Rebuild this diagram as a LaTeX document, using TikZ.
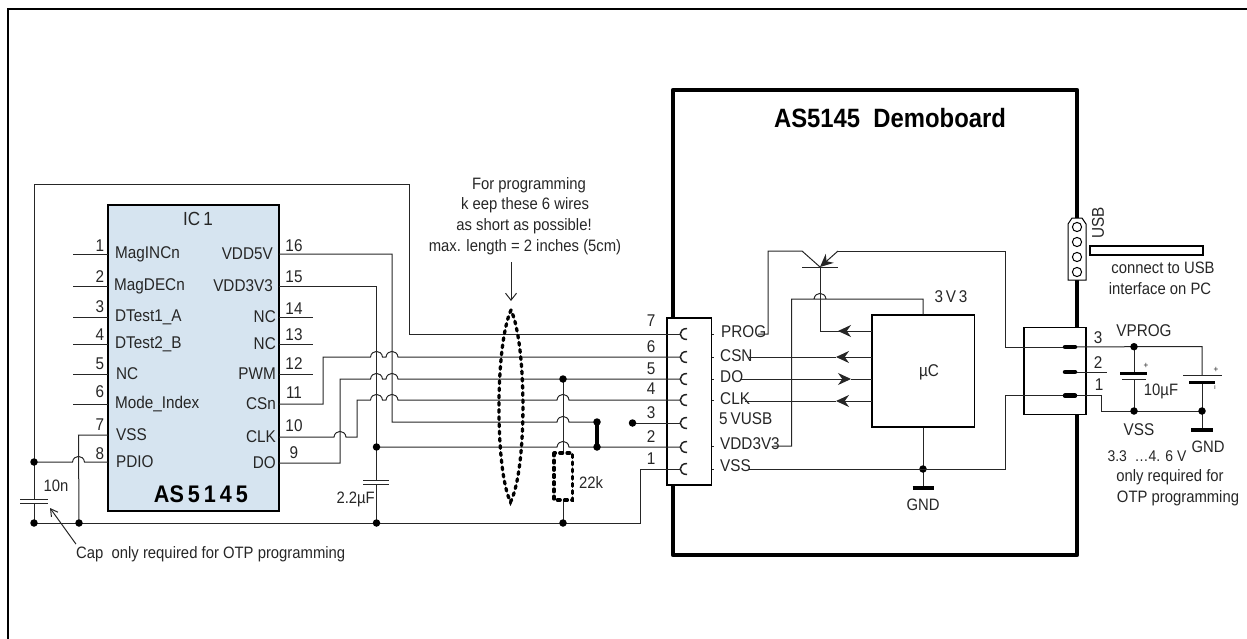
\documentclass[tikz,border=0pt]{standalone}
\usepackage{fontspec}
\setmainfont[FakeStretch=0.9]{Liberation Sans}
\usepackage{tikz}
\usetikzlibrary{arrows.meta}
\definecolor{icblue}{HTML}{D6E4F0}
\colorlet{inkcol}{black!85}
\tikzset{
	wire/.style={line width=1pt, draw=inkcol},
	frameline/.style={line width=2pt, draw=black},
	boardline/.style={line width=4.2pt, draw=black, line join=round},
	plate/.style={line width=1pt, draw=inkcol},
	barplate/.style={line width=3pt, draw=black},
	dotted thick/.style={line width=3.3pt, draw=black, line cap=round, dash pattern=on 2.8pt off 4.4pt},
	label/.style={inner sep=0pt, text=inkcol, font=\fontsize{16.5}{18}\selectfont},
	pinlabel/.style={label, font=\fontsize{17}{18}\selectfont},
	solder/.style={circle, fill=black, inner sep=0pt, minimum size=7.5pt},
	pad/.style={line width=4.5pt, draw=black, line cap=round},
	tip/.style={-{Stealth[length=13pt, width=12pt]}}
}
% hump of a wire passing over another one
\newcommand{\hop}[2]{-- (#1-6,#2) .. controls (#1-5,#2-7.5) and (#1+5,#2-7.5) .. (#1+6,#2)}
\begin{document}
\begin{tikzpicture}[x=1pt, y=-1pt]
	\useasboundingbox (0,0) rectangle (1247,638);
	\draw[frameline] (8,640) -- (8,9) -- (1250,9);

	% board
	\draw[boardline] (673,90) rectangle (1077,555);
	\node[font=\fontsize{26.5}{28}\selectfont\bfseries, inner sep=0pt] (boardname) at (890,118) {AS5145\ \ Demoboard};

	% chip
	\node[draw=black, line width=1.3pt, fill=icblue, minimum width=171pt, minimum height=306pt, inner sep=0pt] (ic) at (193.5,358) {};
	\node[label, font=\fontsize{19}{20}\selectfont] (icname) at (198,219) {IC\,1};
	\node[font=\fontsize{24}{26}\selectfont\bfseries, inner sep=0pt] (icpart) at (201,494) {AS\,5\,1\,4\,5};
	\foreach \n/\y/\ty/\t/\tx in {1/254/246/MagINCn/115, 2/286/277/MagDECn/114, 3/317/307/DTest1\_A/115, 4/344/335/DTest2\_B/115, 5/374/364/NC/116, 6/404/392/Mode\_Index/115, 7/435/425/VSS/116, 8/462/454/PDIO/116}{
		\coordinate (pin\n) at (108,\y);
		\node[pinlabel] (num\n) at (100,\ty) {\n};
		\node[pinlabel, anchor=west] (name\n) at (\tx,\y) {\t};
	}
	\foreach \n/\y/\ty/\t/\tx in {16/254/246/VDD5V/273, 15/286/277/VDD3V3/273, 14/317/309/NC/276, 13/344/335/NC/276, 12/374/364/PWM/276, 11/404/393/CSn/276, 10/437/426/CLK/276, 9/463/453/DO/276}{
		\coordinate (pin\n) at (279,\y);
		\node[pinlabel] (num\n) at (294,\ty) {\n};
		\node[pinlabel, anchor=east] (name\n) at (\tx,\y) {\t};
	}
	\foreach \n in {1,...,6}
		\draw[wire] (pin\n) -- ++(-35,0);
	\foreach \n in {14,13,12}
		\draw[wire] (pin\n) -- ++(34,0);

	% connector on the board
	\node[draw=black, fill=white, line width=1.2pt, minimum width=44.7pt, minimum height=167pt, inner sep=0pt] (conn) at (689.3,401.5) {};
	\foreach \n/\y/\ty in {7/334/321, 6/357/347, 5/379/369, 4/400/389, 3/423/413, 2/447/437, 1/469/459}{
		\coordinate (cn\n) at (680,\y);
		\node[pinlabel] (cnum\n) at (651,\ty) {\n};
		\draw[wire, line width=1.5pt] (687,\y-5.5) .. controls (678,\y-5.5) and (678,\y+5.5) .. (687,\y+5.5);
	}
	\foreach \y in {334,357,379,400,446,469}
		\draw[wire] (712,\y) -- (714,\y);

	% wires between chip and connector
	\coordinate (railL) at (34,523);
	\coordinate (railV) at (79,523);
	\coordinate (railC) at (376.5,523);
	\coordinate (railR) at (563,523);
	\coordinate (jL) at (34,462);
	\coordinate (jC) at (376.5,447);
	\coordinate (jR) at (563,379);
	\coordinate (barT) at (597,422);
	\coordinate (barB) at (597,447);
	\coordinate (free3) at (632.5,423);
	\coordinate (capA) at (34,499);
	\coordinate (capB) at (34,503.5);
	\coordinate (capC) at (376.5,480);
	\coordinate (capD) at (376.5,484.5);
	\coordinate (resT) at (563,453);
	\coordinate (resB) at (563,500);

	\draw[wire] (cn7) -- (409,334) -- (409,184) -- (34,184) -- (capA);
	\draw[wire] (capB) -- (railL);
	\draw[wire] (railL) -- (640.5,523) -- (640.5,469) -- (cn1);
	\draw[wire] (jL) \hop{78.5}{462} -- (pin8);
	\draw[wire] (pin7) -- (78.5,435) -- (railV);
	\draw[wire] (pin16) -- (392,254) -- (392,422) \hop{563}{422} -- (barT);
	\draw[wire] (pin15) -- (376.5,286) -- (capC);
	\draw[wire] (capD) -- (railC);
	\draw[wire] (jC) \hop{563}{447} -- (cn2);
	\draw[wire] (pin11) -- (323,404) -- (323,357) \hop{376.5}{357} \hop{392}{357} -- (cn6);
	\draw[wire] (pin9) -- (340,463) -- (340,379) \hop{376.5}{379} \hop{392}{379} -- (cn5);
	\draw[wire] (pin10) \hop{340}{437} -- (357,437) -- (357,400) \hop{376.5}{400} \hop{392}{400} \hop{563}{400} -- (cn4);
	\draw[wire] (free3) -- (cn3);
	\draw[wire] (jR) -- (resT);
	\draw[wire] (resB) -- (railR);
	\draw[line width=3.4pt, line cap=round] (barT) -- (barB);

	% capacitors on the chip side
	\draw[plate] (20,499) -- (48,499);
	\draw[plate] (20,503.5) -- (48,503.5);
	\draw[plate] (363,480) -- (389,480);
	\draw[plate] (363,484.5) -- (389,484.5);
	\node[label] (capval) at (56,486) {10n};
	\node[label, anchor=east] (cvdd) at (375,499) {2.2µF};
	\node[label, anchor=west] (capnote) at (76,554) {Cap\ \ only required for OTP programming};
	\draw[wire, -{Straight Barb[length=7pt, width=8pt]}] (capnote.north west) ++(0,-2) -- (50,508);

	% note and wire bundle
	\node[label, align=center] (note1) at (529,185) {For programming};
	\node[label] (note2) at (525,205) {k eep these 6 wires};
	\node[label] (note3) at (524,226) {as short as possible!};
	\node[label] (note4) at (525,247) {max. length = 2 inches (5cm)};
	\coordinate (loopT) at (511,310);
	\coordinate (loopB) at (510.5,502);
	\draw[wire, -{Straight Barb[length=7pt, width=11pt]}] (511,262) -- (511,301);
	\draw[dotted thick] (loopT) .. controls (495,345) and (495,470) .. (loopB) .. controls (527,470) and (527,345) .. (loopT);
	\draw[dotted thick] (554,453) rectangle (572.5,500);
	\node[label] (resval) at (591,483) {22k};

	% dots
	\foreach \p in {railL,railV,railC,railR,jL,jC,jR,barT,barB,free3}
		\node[solder] at (\p) {};

	% connector labels on the board
	\node[pinlabel, anchor=west] (lprog) at (721,332) {PROG};
	\node[pinlabel, anchor=west] (lcsn) at (720,356) {CSN};
	\node[pinlabel, anchor=west] (ldo) at (720,377) {DO};
	\node[pinlabel, anchor=west] (lclk) at (720,399) {CLK};
	\node[pinlabel, anchor=west] (lusb) at (719,419) {5\,VUSB};
	\node[pinlabel, anchor=west] (lvdd) at (720,444) {VDD3V3};
	\node[pinlabel, anchor=west] (lvss) at (720,466) {VSS};

	% microcontroller
	\node[draw=black, line width=1.5pt, minimum width=102.5pt, minimum height=112pt, inner sep=0pt] (uc) at (923,371) {};
	\node[pinlabel] (uctext) at (929,372) {µC};
	\node[label, font=\fontsize{17}{18}\selectfont] (vout) at (951,297) {3\,V\,3};
	\coordinate (ucgnd) at (923,469);
	\coordinate (gndA) at (923,487.5);
	\node[label] (gndlabel) at (923,505) {GND};
	\draw[wire] (uc.south) -- (gndA);
	\draw[line width=4pt] (912.5,487.5) -- (933.5,487.5);
	\node[solder] at (ucgnd) {};
	\draw[wire] (758,334) -- (768,334) -- (768,251) -- (802,251) -- (820,267);
	\draw[wire] (802,267) -- (838,267);
	\draw[wire, tip] (838,251) -- (820,267);
	\draw[wire] (820,267) -- (820,331) -- (871.5,331);
	\draw[wire, tip] (871.5,331) -- (838,331);
	\draw[wire, tip] (871.5,357) -- (836,357);
	\draw[wire] (836,357) -- (749,357);
	\draw[wire, tip] (740,379) -- (851,379);
	\draw[wire] (851,379) -- (871.5,379);
	\draw[wire, tip] (871.5,401) -- (836,401);
	\draw[wire] (836,401) -- (745,401);
	\draw[wire] (uc.north) -- (923,299) \hop{820}{299} -- (791.5,299) -- (791.5,446) -- (773,446);
	\draw[wire] (748,469) -- (ucgnd) -- (1005.5,469) -- (1005.5,395.7) -- (1063,395.7);
	\draw[wire] (838,251) -- (1005.5,251) -- (1005.5,347) -- (1063,347);

	% USB header
	\draw[fill=white, line width=1pt] (1068,224) -- (1072,218) -- (1082,218) -- (1086,224) -- (1086,280) -- (1068,280) -- cycle;
	\foreach \y in {227,242,257,272}
		\draw[fill=white, line width=1pt] (1077,\y) circle (4.6);
	\node[pinlabel, rotate=90] (usbtext) at (1098,223) {USB};
	\draw[fill=white, line width=1.4pt] (1090,246) rectangle (1203,255);
	\node[label] (usb1) at (1163,268) {connect to USB};
	\node[label] (usb2) at (1160,289) {interface on PC};

	% programming connector
	\node[draw=black, fill=white, line width=1.2pt, minimum width=62pt, minimum height=86.5pt, inner sep=0pt] (prog) at (1055,371) {};
	\coordinate (vprog) at (1134,346.7);
	\coordinate (vss) at (1134,411);
	\coordinate (gnd) at (1202,411);
	\draw[wire] (1005.5,347) -- (1063,347);
	\draw[wire] (1005.5,395.7) -- (1063,395.7);
	\draw[wire] (1063,347) -- (vprog) -- (1202,346.7) -- (1202,375.7);
	\draw[wire] (1202,382) -- (gnd);
	\draw[wire] (1063,372) -- (1107,372);
	\draw[wire] (1063,395.7) -- (1101,395.7) -- (1101,411) -- (gnd);
	\draw[wire] (vprog) -- (1134,373.7);
	\draw[wire] (1134,379) -- (vss);
	\draw[wire] (gnd) -- (1202,430);
	\foreach \y in {347,372,395.7}
		\draw[pad] (1065,\y) -- (1075,\y);
	\draw[barplate] (1120,373.7) -- (1147,373.7);
	\draw[plate] (1122,379) -- (1146,379);
	\draw[plate] (1183,375.7) -- (1222,375.7);
	\draw[barplate] (1189,382) -- (1215,382);
	\draw[line width=4pt] (1191,430) -- (1213,430);
	\foreach \p in {vprog,vss,gnd}
		\node[solder] at (\p) {};
	\node[pinlabel] (pnum3) at (1098,338) {3};
	\node[pinlabel] (pnum2) at (1098,363) {2};
	\node[pinlabel] (pnum1) at (1099,385) {1};
	\node[pinlabel] (lvprog) at (1144,331) {VPROG};
	\node[pinlabel] (lvss2) at (1139,430) {VSS};
	\node[label] (lgnd2) at (1208,447) {GND};
	\node[label] (l10u) at (1161,391) {10µF};
	\node[label, font=\fontsize{9}{10}\selectfont] (plus1) at (1146,366) {+};
	\node[label, font=\fontsize{9}{10}\selectfont] (plus2) at (1216,370) {+};
	\node[label, font=\fontsize{7}{8}\selectfont] (minus2) at (1215,388) {ı};
	\node[label, font=\fontsize{15.5}{18}\selectfont] (lrange) at (1147,456) {3.3\ \ …4. 6 V};
	\node[label] (lonly) at (1170,477) {only required for};
	\node[label] (lotp) at (1178,498) {OTP programming};
\end{tikzpicture}
\end{document}
